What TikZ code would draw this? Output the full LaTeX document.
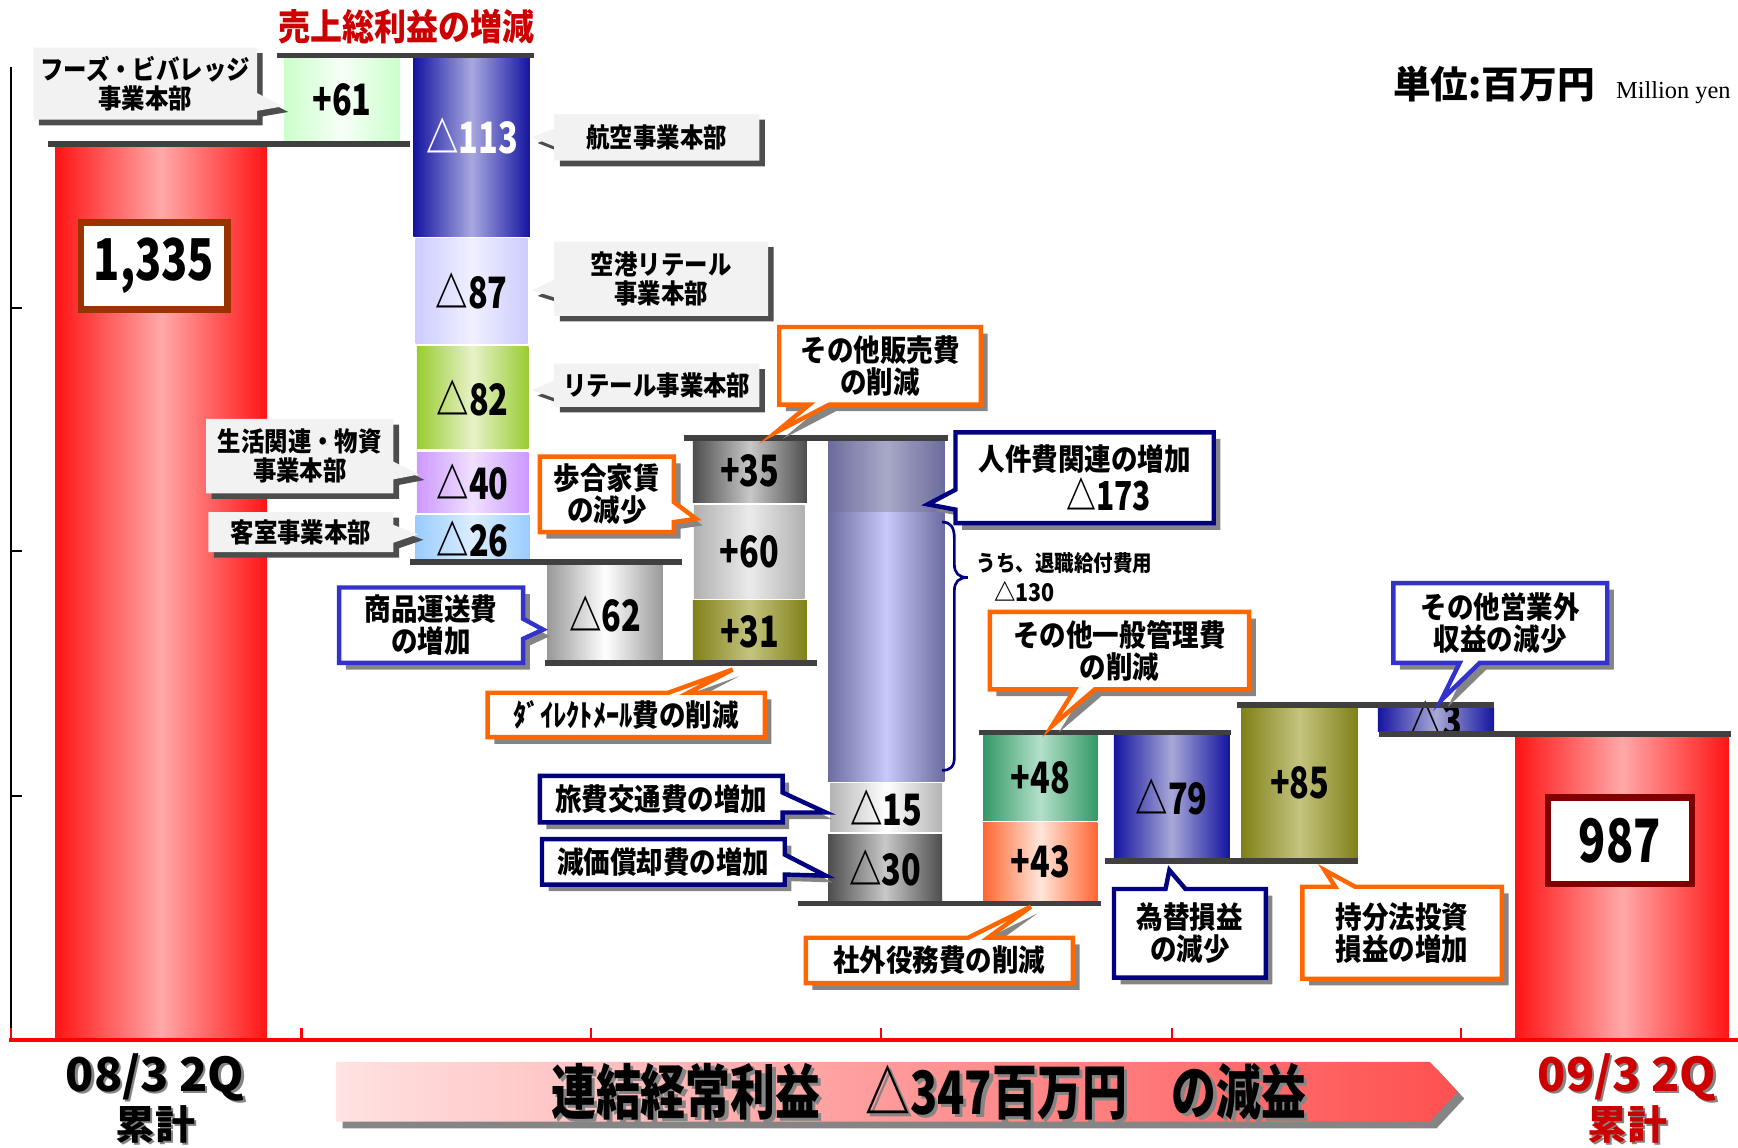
\documentclass[tikz,border=0pt]{standalone}
\usepackage{fontspec}
\newfontfamily\jp{Noto Sans CJK JP}[FakeStretch=0.88]
\newfontfamily\jpn{Noto Sans CJK JP}[FakeStretch=0.75]
\newfontfamily\jpw{Noto Sans CJK JP}
\newfontfamily\tms{Liberation Serif}
\usetikzlibrary{shapes.callouts,shadows}
\definecolor{lvl}{HTML}{404040}
\definecolor{redE}{HTML}{FF1414}
\definecolor{redM}{HTML}{FFA8A8}
\definecolor{titred}{HTML}{CC0000}
\definecolor{orng}{HTML}{FF6600}
\definecolor{navy}{HTML}{000080}
\definecolor{blu}{HTML}{3333CC}
\definecolor{callg}{HTML}{F2F2F2}
\definecolor{shd}{HTML}{4D4D4D}
\definecolor{shl}{HTML}{858585}
\definecolor{brn}{HTML}{993300}
\definecolor{dred}{HTML}{800000}
\definecolor{gE}{HTML}{CCFFCC}\definecolor{gM}{HTML}{F6FFF6}
\definecolor{bdE}{HTML}{1414A0}\definecolor{bdM}{HTML}{A8A8E0}
\definecolor{bdM2}{HTML}{A8A8D8}
\definecolor{lvE}{HTML}{CCCCFF}\definecolor{lvM}{HTML}{F0F0FF}
\definecolor{ygE}{HTML}{99CC33}\definecolor{ygM}{HTML}{E8F2C8}
\definecolor{puE}{HTML}{CC99FF}\definecolor{puM}{HTML}{F0E0FF}
\definecolor{lbE}{HTML}{99CCFF}\definecolor{lbM}{HTML}{DDEEFF}
\definecolor{g9E}{HTML}{999999}
\definecolor{dgE}{HTML}{4D4D4D}\definecolor{dgM}{HTML}{C8C8C8}
\definecolor{mgE}{HTML}{B0B0B0}\definecolor{mgM}{HTML}{EBEBEB}
\definecolor{olE}{HTML}{808018}\definecolor{olM}{HTML}{C4C480}
\definecolor{lgE}{HTML}{B4B4B4}
\definecolor{grE}{HTML}{339966}\definecolor{grM}{HTML}{B4E0CA}
\definecolor{orE}{HTML}{FF6633}\definecolor{orM}{HTML}{FFE6D9}
\definecolor{p1E}{HTML}{6C6C9C}\definecolor{p1M}{HTML}{A8A8C8}
\definecolor{p2E}{HTML}{6C6CA0}\definecolor{p2M}{HTML}{C8C8FA}
\definecolor{bnL}{HTML}{FFE2E2}\definecolor{bnR}{HTML}{FF5050}
\newcommand\wfbar[8]{%
  \shade[left color=#6,right color=#6,middle color=#7] (#2,#3) rectangle (#4,#5);
  \node[bartext] (#1) at ({(#2+#4)/2},{(#3+#5)/2}) {#8};}
\newcommand\mycallout[9]{%
  \coordinate (#1tip) at (#7,#8);
  \node[#2, minimum width={(#5-#3)*0.5pt}, minimum height={(#6-#4)*0.5pt},
    callout absolute pointer={(#1tip)}] (#1) at ({(#3+#5)/2},{(#4+#6)/2}) {#9};}
\tikzset{
  level/.style={draw=lvl, line width=2.5pt},
  bartext/.style={font=\jpn\bfseries\fontsize{19.5}{21}\selectfont, inner sep=0},
  gcall/.style={rectangle callout, fill=callg, inner sep=0, callout pointer width=8pt,
    align=center, font=\jp\bfseries\fontsize{12}{13}\selectfont,
    drop shadow={shadow xshift=2.5pt, shadow yshift=-2.5pt, fill=shd, opacity=1}},
  ccall/.style={rectangle callout, fill=white, line width=2pt, inner sep=0,
    callout pointer width=9pt, align=center, font=\jp\bfseries\fontsize{13.6}{14.5}\selectfont,
    drop shadow={shadow xshift=3pt, shadow yshift=-3pt, fill=shl, opacity=1}},
  ocall/.style={ccall, draw=orng},
  ncall/.style={ccall, draw=navy},
  bcall/.style={ccall, draw=blu},
}
\begin{document}
\begin{tikzpicture}[x=0.5pt, y=-0.5pt, font=\jp\bfseries]
\useasboundingbox (0,0) rectangle (1568,1035);
% axis
\draw[black, line width=0.6pt] (10,60) -- (10,938);
\foreach \yy in {278,497,718} \draw[black, line width=0.6pt] (10,\yy) -- (20,\yy);
% red totals
\shade[left color=redE,right color=redE,middle color=redM] (50,130) rectangle (241,938);
\shade[left color=redE,right color=redE,middle color=redM] (1367,664) rectangle (1560,938);
\node[draw=brn, line width=3pt, fill=white, minimum width=66pt, minimum height=39pt,
  font=\jpn\bfseries\fontsize{26}{28}\selectfont] (v1335) at (139,240) {1,335};
\node[draw=dred, line width=3pt, fill=white, minimum width=65pt, minimum height=39pt,
  font=\jpn\bfseries\fontsize{27}{28}\selectfont] (v987) at (1461.5,758.5) {987};
% bars
\wfbar{b61}{256}{52}{361}{128}{gE}{gM}{+61}
\shade[left color=bdE,right color=bdE,middle color=bdM] (373,52) rectangle (478,213);
\node[bartext, text=white] (b113) at (426,123) {△113};
\wfbar{b87}{375}{215}{476}{310}{lvE}{lvM}{△87}
\wfbar{b82}{376}{313}{477}{405}{ygE}{ygM}{△82}
\wfbar{b40}{376}{408}{477}{462}{puE}{puM}{△40}
\wfbar{b26}{375}{465}{478}{507}{lbE}{lbM}{△26}
\wfbar{b62}{494}{509}{598}{598}{g9E}{white}{△62}
\wfbar{b35}{625}{397}{728}{453}{dgE}{dgM}{+35}
\wfbar{b60}{626}{456}{726}{540}{mgE}{mgM}{+60}
\wfbar{b31}{625}{542}{728}{598}{olE}{olM}{+31}
\shade[left color=p1E,right color=p1E,middle color=p1M] (747,397) rectangle (852,462);
\shade[left color=p2E,right color=p2E,middle color=p2M] (747,462) rectangle (852,705);
\wfbar{b15}{749}{707}{850}{750}{lgE}{white}{△15}
\wfbar{b30}{747}{753}{850}{813}{dgE}{dgM}{△30}
\wfbar{b48}{887}{663}{990}{740}{grE}{grM}{+48}
\wfbar{b43}{887}{742}{990}{813}{orE}{orM}{+43}
\wfbar{b79}{1005}{663}{1109}{775}{bdE}{bdM2}{△79}
\wfbar{b85}{1120}{638}{1225}{775}{olE}{olM}{+85}
\wfbar{b3}{1243}{638}{1348}{660}{bdE}{bdM2}{△3}
% level lines
\draw[level] (250,50) -- (482,50);
\draw[level] (43,130) -- (370,130);
\draw[level] (370,507) -- (615,507);
\draw[level] (617,395) -- (855,395);
\draw[level] (492,598) -- (737,598);
\draw[level] (720,815) -- (993,815);
\draw[level] (883,661) -- (1111,661);
\draw[level] (997,777) -- (1225,777);
\draw[level] (1116,636) -- (1348,636);
\draw[level] (1244,662) -- (1562,662);
% brace
\draw[navy, line width=1.2pt] (850,471) .. controls (858,471) and (861,476) .. (861,486)
  -- (861,509) .. controls (861,517) and (865,521) .. (873,521)
  .. controls (865,521) and (861,525) .. (861,533) -- (861,683)
  .. controls (861,692) and (857,695) .. (850,695);
\node[anchor=west, font=\jp\bfseries\fontsize{10}{11}\selectfont] (uchi) at (874,508) {うち、退職給付費用};
\node[anchor=west, font=\jp\bfseries\fontsize{11}{12}\selectfont] (u130) at (890,534) {△130};
% grey callouts
\mycallout{cFoods}{gcall}{30}{43}{232}{108}{255}{96}{フーズ・ビバレッジ\\事業本部}
\mycallout{cKoku}{gcall}{500}{103}{685}{145}{480}{124}{航空事業本部}
\mycallout{cKuko}{gcall}{500}{218}{693}{285}{480}{262}{空港リテール\\事業本部}
\mycallout{cRetail}{gcall}{500}{328}{685}{367}{480}{352}{リテール事業本部}
\mycallout{cSeikatsu}{gcall}{186}{378}{355}{445}{378}{428}{生活関連・物資\\事業本部}
\mycallout{cKyaku}{gcall}{188}{462}{355}{498}{377}{482}{客室事業本部}
% coloured callouts
\mycallout{cBuai}{ocall}{487}{412}{608}{480}{628}{468}{歩合家賃\\の減少}
\mycallout{cSonota}{ocall}{703}{295}{885}{365}{700}{390}{その他販売費\\の削減}
\mycallout{cShohin}{bcall}{306}{530}{472}{598}{490}{568}{商品運送費\\の増加}
\mycallout{cDM}{ocall}{440}{625}{690}{665}{661}{604}{ﾀﾞｲﾚｸﾄﾒｰﾙ費の削減}
\mycallout{cJinken}{ncall}{862}{390}{1095}{472}{837}{455}{人件費関連の増加\\[1pt]\hspace*{1.6em}{\jpn\fontsize{18}{18}\selectfont △173}}
\mycallout{cTravel}{ncall}{487}{700}{706}{742}{745}{733}{旅費交通費の増加}
\mycallout{cDep}{ncall}{489}{757}{708}{798}{745}{790}{減価償却費の増加}
\mycallout{cIppan}{ocall}{893}{552}{1127}{622}{949}{655}{その他一般管理費\\の削減}
\mycallout{cShagai}{ocall}{727}{846}{968}{887}{930}{818}{社外役務費の削減}
\mycallout{cKawase}{ncall}{1005}{802}{1142}{882}{1055}{785}{為替損益\\の減少}
\mycallout{cMochi}{ocall}{1175}{800}{1355}{883}{1195}{785}{持分法投資\\損益の増加}
\mycallout{cEigai}{bcall}{1257}{526}{1450}{598}{1300}{632}{その他営業外\\収益の減少}
% titles
\node[font=\jp\bfseries\fontsize{16.4}{18}\selectfont, text=titred] (title) at (367,24) {売上総利益の増減};
\node[anchor=base east, font=\jpw\bfseries\fontsize{17}{18}\selectfont] (unit) at (1446,89) {単位:百万円};
\node[anchor=base west, font=\tms\fontsize{11}{12}\selectfont] (unitE) at (1451,89) {Million yen};
% bottom axis
\draw[red, line width=2pt] (8,938) -- (1568,938);
\foreach \xx in {10,272,533,795,1057,1318} \draw[red, line width=1pt] (\xx,938) -- (\xx,927);
% banner
\fill[shl] (309,964) -- (1296,964) -- (1321,991) -- (1296,1018) -- (309,1018) -- cycle;
\shade[left color=bnL, right color=bnR] (303,958) -- (1290,958) -- (1315,985) -- (1290,1012) -- (303,1012) -- cycle;
\node[font=\jpn\bfseries\fontsize{27}{28}\selectfont, text=shl] (bannerS) at (841,988) {連結経常利益　△347百万円　の減益};
\node[font=\jpn\bfseries\fontsize{27}{28}\selectfont] (banner) at (838,985) {連結経常利益　△347百万円　の減益};
% period labels
\node[font=\jpw\bfseries\fontsize{21}{22}\selectfont, text=shl] (l08s) at (142,974) {08/3 2Q};
\node[font=\jpw\bfseries\fontsize{21}{22}\selectfont] (l08) at (140,972) {08/3 2Q};
\node[font=\jpw\bfseries\fontsize{18}{19}\selectfont, text=shl] (l08bs) at (142,1016) {累計};
\node[font=\jpw\bfseries\fontsize{18}{19}\selectfont] (l08b) at (140,1014) {累計};
\node[font=\jpw\bfseries\fontsize{21}{22}\selectfont, text=shl] (l09s) at (1470,974) {09/3 2Q};
\node[font=\jpw\bfseries\fontsize{21}{22}\selectfont, text=titred] (l09) at (1468,972) {09/3 2Q};
\node[font=\jpw\bfseries\fontsize{18}{19}\selectfont, text=shl] (l09bs) at (1470,1016) {累計};
\node[font=\jpw\bfseries\fontsize{18}{19}\selectfont, text=titred] (l09b) at (1468,1014) {累計};
\end{tikzpicture}
\end{document}
